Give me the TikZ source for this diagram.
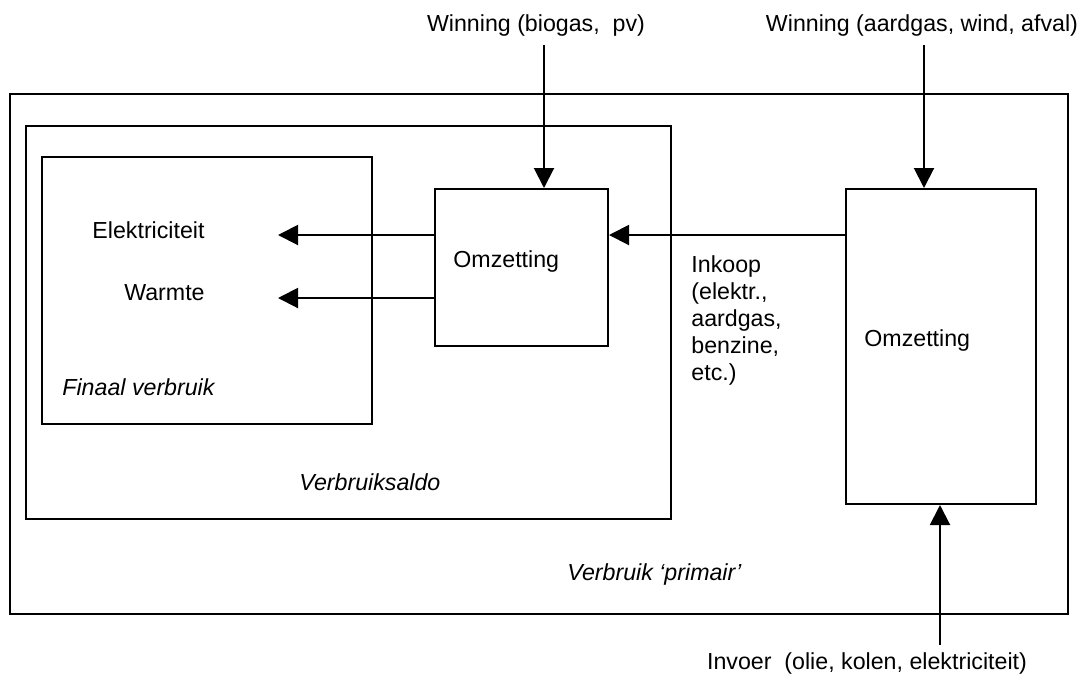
\documentclass[tikz,border=0pt]{standalone}
\usepackage{fontspec}
\setmainfont{Liberation Sans}
\usetikzlibrary{arrows.meta}
\begin{document}
\begin{tikzpicture}[x=0.5pt,y=-0.5pt,
  box/.style={draw,line width=1pt,rectangle,inner sep=0pt,anchor=north west},
  txt/.style={inner sep=0pt,font=\fontsize{11.6pt}{13.5pt}\selectfont},
  itxt/.style={txt,font=\fontsize{11.6pt}{13.5pt}\selectfont\itshape},
  arr/.style={line width=1pt,-{Triangle[length=10pt,width=10pt]}}]
\useasboundingbox (0,0) rectangle (1082,682);
% boxes
\node[box,minimum width=529pt,minimum height=260pt] (outer) at (9,93) {};
\node[box,minimum width=322.5pt,minimum height=196.5pt] (saldo) at (25,125) {};
\node[box,minimum width=165pt,minimum height=133.5pt] (final) at (41,156) {};
\node[box,minimum width=86.5pt,minimum height=78.5pt] (sbox) at (434,188) {};
\node[box,minimum width=95pt,minimum height=157.5pt] (rbox) at (845,188) {};
% texts
\node[txt] (win1) at (536,25) {Winning (biogas,\ \ pv)};
\node[txt] (win2) at (922,25) {Winning (aardgas, wind, afval)};
\node[txt] (invoer) at (867,663) {Invoer\ \ (olie, kolen, elektriciteit)};
\node[txt,anchor=east] (elek) at (205,230) {Elektriciteit};
\node[txt,anchor=east] (warm) at (205,293) {Warmte};
\node[txt,anchor=west] (omz1) at (453,261) {Omzetting};
\node[txt,anchor=west] (omz2) at (864,340) {Omzetting};
\node[txt,anchor=north west,align=left] (inkoop) at (691,255) {Inkoop\\(elektr.,\\aardgas,\\benzine,\\etc.)};
\node[itxt,anchor=west] (fin) at (62,387) {Finaal verbruik};
\node[itxt,anchor=west] (vsaldo) at (299,482) {Verbruiksaldo};
\node[itxt,anchor=west] (vprim) at (567,574) {Verbruik ‘primair’};
% connectors
\coordinate (a1s) at (544,45);
\coordinate (a2s) at (924,45);
\coordinate (a3s) at (940,645);
\coordinate (e1) at (278,235);
\coordinate (w1) at (278,298);
\coordinate (ink) at (607,235);
\draw[arr] (a1s) -- (a1s |- sbox.north);
\draw[arr] (a2s) -- (a2s |- rbox.north);
\draw[arr] (a3s) -- (a3s |- rbox.south);
\draw[arr] (e1 -| sbox.west) -- (e1);
\draw[arr] (w1 -| sbox.west) -- (w1);
\draw[arr] (ink -| rbox.west) -- (ink -| sbox.east);
\end{tikzpicture}
\end{document}
